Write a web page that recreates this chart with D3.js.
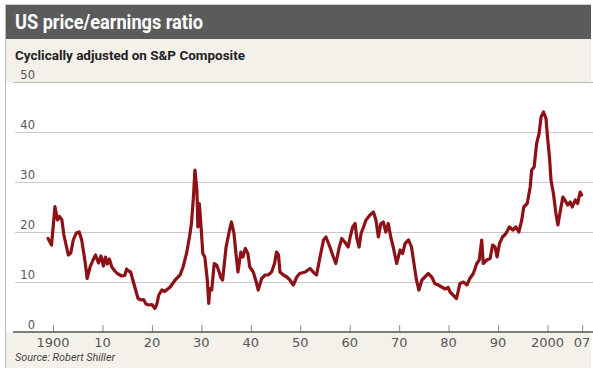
<!DOCTYPE html>
<html>
<head>
<meta charset="utf-8">
<script src="https://cdn.jsdelivr.net/npm/d3@7"></script>
<style>
  html, body { margin: 0; padding: 0; background: #ffffff; }
  svg { display: block; }
</style>
</head>
<body>
<svg id="chart" width="593" height="368"></svg>
<script>
// Cyclically adjusted P/E on the S&P Composite (Robert Shiller)
const years = [
  1899.0, 1899.7, 1900.4, 1900.9, 1901.3, 1901.8, 1902.2, 1903.1, 1903.6, 1904.1,
  1904.7, 1905.3, 1905.8, 1906.5, 1906.9, 1907.5, 1908.1, 1908.6, 1909.2, 1909.7,
  1910.2, 1910.6, 1911.0, 1911.4, 1911.9, 1912.5, 1913.0, 1913.9, 1914.5, 1914.9,
  1915.3, 1915.7, 1916.2, 1916.6, 1917.2, 1917.8, 1918.3, 1918.8, 1919.4, 1920.0,
  1920.6, 1921.0, 1921.4, 1922.0, 1922.6, 1923.2, 1923.7, 1924.7, 1925.7, 1926.3,
  1927.0, 1927.6, 1928.0, 1928.4, 1928.7, 1929.1, 1929.3, 1929.6, 1929.9, 1930.3,
  1930.7, 1931.2, 1931.5, 1931.7, 1932.1, 1932.6, 1933.1, 1933.6, 1933.9, 1934.3,
  1935.0, 1935.7, 1936.1, 1936.6, 1937.0, 1937.4, 1938.0, 1938.4, 1938.9, 1939.4,
  1939.8, 1940.5, 1941.1, 1941.5, 1942.2, 1942.9, 1943.5, 1944.2, 1944.8, 1945.2,
  1945.6, 1945.9, 1946.6, 1947.3, 1947.9, 1948.6, 1949.3, 1949.9, 1951.0, 1952.0,
  1952.6, 1953.3, 1954.0, 1954.7, 1955.2, 1956.0, 1956.7, 1957.2, 1957.9, 1958.4,
  1959.0, 1959.7, 1960.1, 1960.6, 1961.1, 1961.4, 1961.9, 1962.3, 1962.8, 1963.3,
  1964.1, 1964.8, 1965.3, 1965.8, 1966.3, 1966.8, 1967.3, 1967.8, 1968.3, 1968.8,
  1969.5, 1970.2, 1970.7, 1971.2, 1971.9, 1972.5, 1973.1, 1973.5, 1974.0, 1974.6,
  1975.2, 1975.9, 1976.6, 1977.2, 1977.9, 1978.6, 1979.3, 1979.9, 1980.3, 1980.9,
  1981.6, 1982.3, 1983.0, 1983.7, 1984.3, 1985.0, 1985.7, 1986.2, 1986.7, 1987.0,
  1987.7, 1988.4, 1988.9, 1989.4, 1989.8, 1990.3, 1990.9, 1991.6, 1992.3, 1993.0,
  1993.6, 1994.2, 1994.8, 1995.2, 1995.9, 1996.5, 1996.8, 1997.3, 1997.8, 1998.3,
  1998.7, 1999.2, 1999.7, 2000.0, 2000.4, 2000.7, 2001.2, 2001.7, 2002.1, 2002.5,
  2003.1, 2003.5, 2004.1, 2004.6, 2005.0, 2005.6, 2006.1, 2006.6, 2006.9
];
const peRatio = [
  18.7, 17.4, 25.1, 22.4, 23.1, 22.4, 19.4, 15.4, 15.8, 18.4,
  19.8, 20.0, 18.4, 14.0, 10.7, 13.0, 14.4, 15.4, 13.8, 15.2,
  13.2, 15.0, 13.6, 14.6, 13.0, 12.2, 11.7, 11.2, 11.3, 12.6,
  12.2, 12.0, 10.2, 8.8, 6.7, 6.4, 6.5, 5.6, 5.4, 5.5,
  4.7, 5.6, 7.4, 8.4, 8.1, 8.6, 9.0, 10.4, 11.4, 13.0,
  15.7, 19.0, 21.7, 27.0, 32.4, 28.4, 21.0, 25.7, 21.7, 15.7,
  15.0, 10.4, 5.7, 8.7, 8.4, 13.7, 13.4, 12.0, 11.0, 10.4,
  17.0, 20.4, 22.0, 19.7, 15.7, 12.0, 16.0, 15.0, 16.7, 15.7,
  13.0, 12.0, 10.0, 8.4, 10.7, 11.4, 11.4, 12.0, 13.7, 16.0,
  15.4, 12.0, 11.4, 11.0, 10.4, 9.4, 11.0, 11.7, 12.0, 12.7,
  12.0, 11.4, 15.0, 18.4, 19.0, 17.0, 15.0, 13.7, 17.0, 18.7,
  18.0, 17.0, 19.0, 21.0, 21.7, 19.0, 17.0, 19.7, 21.0, 22.4,
  23.4, 24.0, 22.4, 19.0, 21.7, 22.0, 20.0, 21.7, 19.0, 17.0,
  13.7, 16.4, 15.7, 17.7, 18.4, 17.0, 13.0, 10.4, 8.4, 10.4,
  11.0, 11.7, 11.0, 9.7, 9.4, 9.0, 8.6, 8.9, 8.0, 7.4,
  6.7, 9.7, 10.0, 9.4, 10.7, 11.7, 13.7, 14.4, 18.4, 13.7,
  14.4, 14.7, 17.4, 17.0, 15.0, 17.7, 19.0, 19.7, 21.0, 20.4,
  21.0, 20.0, 22.4, 25.0, 25.7, 29.0, 32.4, 33.0, 37.7, 39.7,
  43.0, 44.0, 42.7, 39.0, 35.0, 30.4, 27.7, 23.7, 21.4, 23.7,
  27.0, 26.4, 25.4, 26.0, 25.0, 26.4, 25.7, 28.0, 27.4
];

const yTicks = [0, 10, 20, 30, 40, 50];
const xTicks = [1900, 1910, 1920, 1930, 1940, 1950, 1960, 1970, 1980, 1990, 2000, 2007];
const xTickLabels = ["1900", "10", "20", "30", "40", "50", "60", "70", "80", "90", "2000", "07"];

const titleText = "US price/earnings ratio";
const subtitleText = "Cyclically adjusted on S&P Composite";
const sourceText = "Source: Robert Shiller";

const W = 593, H = 368;
const svg = d3.select("#chart");

const x = d3.scaleLinear().domain([1900, 2000]).range([53, 547.5]);
const y = d3.scaleLinear().domain([0, 50]).range([332, 82]);

// panel background and frame
svg.append("rect").attr("x", 5).attr("y", 4).attr("width", 586).attr("height", H - 4)
  .attr("fill", "#f4f1eb");
svg.append("rect").attr("x", 5).attr("y", y(50)).attr("width", W - 5).attr("height", y(0) - y(50))
  .attr("fill", "#ffffff");
svg.append("line").attr("x1", 5.5).attr("x2", 5.5).attr("y1", 4).attr("y2", H)
  .attr("stroke", "#b8b8b8").attr("stroke-width", 1);
svg.append("line").attr("x1", 5).attr("x2", 591).attr("y1", 4.5).attr("y2", 4.5)
  .attr("stroke", "#d0d0d0").attr("stroke-width", 1);

// header band
svg.append("rect").attr("x", 6).attr("y", 5).attr("width", 585).attr("height", 34)
  .attr("fill", "#5b5b5b");

function fitText(sel, width) {
  sel.attr("textLength", width).attr("lengthAdjust", "spacingAndGlyphs");
}

const title = svg.append("text").attr("x", 15).attr("y", 28.5)
  .attr("fill", "#ffffff")
  .attr("font-family", "'Liberation Sans Narrow', Roboto, 'Open Sans', sans-serif")
  .attr("font-weight", "bold").attr("font-size", 19.5)
  .text(titleText);
fitText(title, 188);

const subtitle = svg.append("text").attr("x", 15).attr("y", 60)
  .attr("fill", "#222222")
  .attr("font-family", "'Liberation Sans Narrow', Roboto, 'Open Sans', sans-serif")
  .attr("font-weight", "bold").attr("font-size", 12.5)
  .text(subtitleText);
fitText(subtitle, 230);

// horizontal gridlines
const grid = svg.append("g");
grid.selectAll("line").data(yTicks.filter(d => d > 0)).join("line")
  .attr("x1", d => d === 50 ? 13 : 15).attr("x2", W)
  .attr("y1", d => Math.round(y(d)) + 0.5).attr("y2", d => Math.round(y(d)) + 0.5)
  .attr("stroke", d => d === 50 ? "#b5b5b5" : "#c9c9c9").attr("stroke-width", 1.2);

// y tick labels sit above their gridlines
svg.append("g").selectAll("text").data(yTicks).join("text")
  .attr("x", 35).attr("y", d => y(d) - 3)
  .attr("text-anchor", "end")
  .attr("font-family", "'DejaVu Sans', sans-serif").attr("font-size", 11.5)
  .attr("fill", "#555555")
  .text(d => d);

// x axis baseline with inward ticks
const xAxis = d3.axisTop(x).tickValues(xTicks).tickSize(7).tickFormat("");
const gx = svg.append("g").attr("transform", `translate(0,${y(0)})`).call(xAxis);
gx.select(".domain").remove();
gx.selectAll(".tick line").attr("stroke", "#8a8a8a").attr("stroke-width", 1);
svg.append("line").attr("x1", 13).attr("x2", W).attr("y1", y(0)).attr("y2", y(0))
  .attr("stroke", "#555555").attr("stroke-width", 1.6);

svg.append("g").selectAll("text").data(xTicks).join("text")
  .attr("x", d => x(d)).attr("y", 347)
  .attr("text-anchor", "middle")
  .attr("font-family", "'DejaVu Sans', sans-serif").attr("font-size", 13)
  .attr("fill", "#555555")
  .text((d, i) => xTickLabels[i]);

// the P/E series
const series = years.map((yr, i) => ({ year: yr, value: peRatio[i] }));
const line = d3.line().x(d => x(d.year)).y(d => y(d.value));
svg.append("path").datum(series)
  .attr("d", line)
  .attr("fill", "none")
  .attr("stroke", "#8c1217")
  .attr("stroke-width", 3.2)
  .attr("stroke-linejoin", "round")
  .attr("stroke-linecap", "round");

const source = svg.append("text").attr("x", 15).attr("y", 361)
  .attr("fill", "#444444")
  .attr("font-family", "'Liberation Sans Narrow', Roboto, 'Open Sans', sans-serif")
  .attr("font-style", "italic").attr("font-size", 11.5)
  .text(sourceText);
fitText(source, 100);
</script>
</body>
</html>
